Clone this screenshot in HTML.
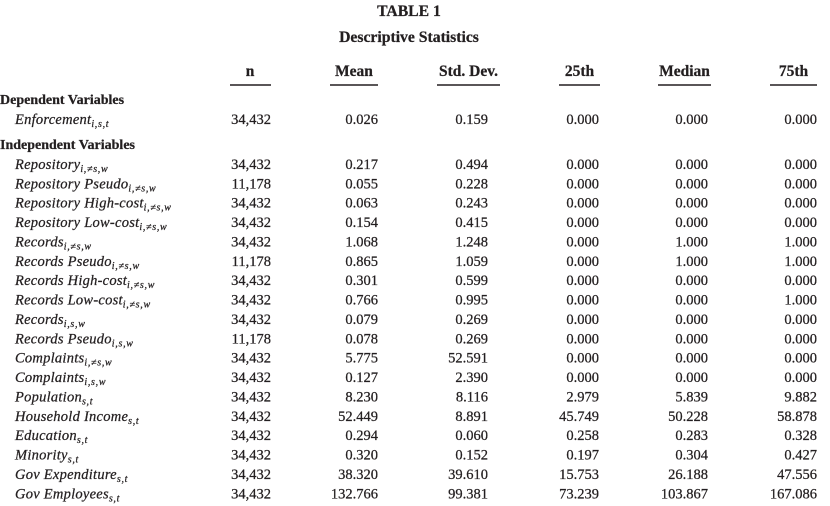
<!DOCTYPE html>
<html>
<head>
<meta charset="utf-8">
<style>
html,body{margin:0;padding:0;background:#fff;}
svg{display:block;}
text{font-family:"Liberation Serif","Times New Roman",serif;fill:#231f20;stroke:#231f20;stroke-width:0.25px;}
.t{font-weight:bold;font-size:15.7px;}
.h{font-weight:bold;font-size:15.5px;}
.s{font-weight:bold;font-size:14px;}
.l{font-style:italic;font-size:14.5px;letter-spacing:0.25px;}
.sb{font-size:10px;font-style:italic;letter-spacing:0.7px;}
.n{font-size:14.5px;text-anchor:end;}
</style>
</head>
<body>
<svg width="830" height="506" viewBox="0 0 830 506" xmlns="http://www.w3.org/2000/svg">
<text class="t" x="409" y="16" text-anchor="middle">TABLE 1</text>
<text class="t" x="409" y="42" text-anchor="middle">Descriptive Statistics</text>

<g class="h">
<text class="h" x="250" y="76" text-anchor="middle">n</text>
<text class="h" x="354" y="76" text-anchor="middle">Mean</text>
<text class="h" x="468.5" y="76" text-anchor="middle">Std. Dev.</text>
<text class="h" x="579.5" y="76" text-anchor="middle">25th</text>
<text class="h" x="684.5" y="76" text-anchor="middle">Median</text>
<text class="h" x="793.5" y="76" text-anchor="middle">75th</text>
</g>
<g stroke="#231f20" stroke-width="1.5">
<line x1="230" y1="85" x2="271" y2="85"/>
<line x1="330" y1="85" x2="378" y2="85"/>
<line x1="437" y1="85" x2="500" y2="85"/>
<line x1="559" y1="85" x2="600" y2="85"/>
<line x1="658" y1="85" x2="711" y2="85"/>
<line x1="770" y1="85" x2="817" y2="85"/>
</g>

<text class="s" x="0" y="104">Dependent Variables</text>
<text class="l" x="15" y="124">Enforcement<tspan class="sb" dy="3">i,s,t</tspan></text>
<g class="n">
<text class="n" x="271" y="124">34,432</text>
<text class="n" x="378" y="124">0.026</text>
<text class="n" x="488" y="124">0.159</text>
<text class="n" x="599" y="124">0.000</text>
<text class="n" x="708" y="124">0.000</text>
<text class="n" x="817" y="124">0.000</text>
</g>
<text class="s" x="0" y="149">Independent Variables</text>

<text class="l" x="15" y="169">Repository<tspan class="sb" dy="3">i,≠s,w</tspan></text>
<text class="l" x="15" y="188.4">Repository Pseudo<tspan class="sb" dy="3">i,≠s,w</tspan></text>
<text class="l" x="15" y="207.7">Repository High-cost<tspan class="sb" dy="3">i,≠s,w</tspan></text>
<text class="l" x="15" y="227.1">Repository Low-cost<tspan class="sb" dy="3">i,≠s,w</tspan></text>
<text class="l" x="15" y="246.5">Records<tspan class="sb" dy="3">i,≠s,w</tspan></text>
<text class="l" x="15" y="265.9">Records Pseudo<tspan class="sb" dy="3">i,≠s,w</tspan></text>
<text class="l" x="15" y="285.2">Records High-cost<tspan class="sb" dy="3">i,≠s,w</tspan></text>
<text class="l" x="15" y="304.6">Records Low-cost<tspan class="sb" dy="3">i,≠s,w</tspan></text>
<text class="l" x="15" y="324">Records<tspan class="sb" dy="3">i,s,w</tspan></text>
<text class="l" x="15" y="343.3">Records Pseudo<tspan class="sb" dy="3">i,s,w</tspan></text>
<text class="l" x="15" y="362.7">Complaints<tspan class="sb" dy="3">i,≠s,w</tspan></text>
<text class="l" x="15" y="382.1">Complaints<tspan class="sb" dy="3">i,s,w</tspan></text>
<text class="l" x="15" y="401.4">Population<tspan class="sb" dy="3">s,t</tspan></text>
<text class="l" x="15" y="420.8">Household Income<tspan class="sb" dy="3">s,t</tspan></text>
<text class="l" x="15" y="440.2">Education<tspan class="sb" dy="3">s,t</tspan></text>
<text class="l" x="15" y="459.6">Minority<tspan class="sb" dy="3">s,t</tspan></text>
<text class="l" x="15" y="478.9">Gov Expenditure<tspan class="sb" dy="3">s,t</tspan></text>
<text class="l" x="15" y="498.3">Gov Employees<tspan class="sb" dy="3">s,t</tspan></text>

<g>
<text class="n" x="271" y="169">34,432</text>
<text class="n" x="271" y="188.4">11,178</text>
<text class="n" x="271" y="207.7">34,432</text>
<text class="n" x="271" y="227.1">34,432</text>
<text class="n" x="271" y="246.5">34,432</text>
<text class="n" x="271" y="265.9">11,178</text>
<text class="n" x="271" y="285.2">34,432</text>
<text class="n" x="271" y="304.6">34,432</text>
<text class="n" x="271" y="324">34,432</text>
<text class="n" x="271" y="343.3">11,178</text>
<text class="n" x="271" y="362.7">34,432</text>
<text class="n" x="271" y="382.1">34,432</text>
<text class="n" x="271" y="401.4">34,432</text>
<text class="n" x="271" y="420.8">34,432</text>
<text class="n" x="271" y="440.2">34,432</text>
<text class="n" x="271" y="459.6">34,432</text>
<text class="n" x="271" y="478.9">34,432</text>
<text class="n" x="271" y="498.3">34,432</text>
</g>
<g>
<text class="n" x="378" y="169">0.217</text>
<text class="n" x="378" y="188.4">0.055</text>
<text class="n" x="378" y="207.7">0.063</text>
<text class="n" x="378" y="227.1">0.154</text>
<text class="n" x="378" y="246.5">1.068</text>
<text class="n" x="378" y="265.9">0.865</text>
<text class="n" x="378" y="285.2">0.301</text>
<text class="n" x="378" y="304.6">0.766</text>
<text class="n" x="378" y="324">0.079</text>
<text class="n" x="378" y="343.3">0.078</text>
<text class="n" x="378" y="362.7">5.775</text>
<text class="n" x="378" y="382.1">0.127</text>
<text class="n" x="378" y="401.4">8.230</text>
<text class="n" x="378" y="420.8">52.449</text>
<text class="n" x="378" y="440.2">0.294</text>
<text class="n" x="378" y="459.6">0.320</text>
<text class="n" x="378" y="478.9">38.320</text>
<text class="n" x="378" y="498.3">132.766</text>
</g>
<g>
<text class="n" x="488" y="169">0.494</text>
<text class="n" x="488" y="188.4">0.228</text>
<text class="n" x="488" y="207.7">0.243</text>
<text class="n" x="488" y="227.1">0.415</text>
<text class="n" x="488" y="246.5">1.248</text>
<text class="n" x="488" y="265.9">1.059</text>
<text class="n" x="488" y="285.2">0.599</text>
<text class="n" x="488" y="304.6">0.995</text>
<text class="n" x="488" y="324">0.269</text>
<text class="n" x="488" y="343.3">0.269</text>
<text class="n" x="488" y="362.7">52.591</text>
<text class="n" x="488" y="382.1">2.390</text>
<text class="n" x="488" y="401.4">8.116</text>
<text class="n" x="488" y="420.8">8.891</text>
<text class="n" x="488" y="440.2">0.060</text>
<text class="n" x="488" y="459.6">0.152</text>
<text class="n" x="488" y="478.9">39.610</text>
<text class="n" x="488" y="498.3">99.381</text>
</g>
<g>
<text class="n" x="599" y="169">0.000</text>
<text class="n" x="599" y="188.4">0.000</text>
<text class="n" x="599" y="207.7">0.000</text>
<text class="n" x="599" y="227.1">0.000</text>
<text class="n" x="599" y="246.5">0.000</text>
<text class="n" x="599" y="265.9">0.000</text>
<text class="n" x="599" y="285.2">0.000</text>
<text class="n" x="599" y="304.6">0.000</text>
<text class="n" x="599" y="324">0.000</text>
<text class="n" x="599" y="343.3">0.000</text>
<text class="n" x="599" y="362.7">0.000</text>
<text class="n" x="599" y="382.1">0.000</text>
<text class="n" x="599" y="401.4">2.979</text>
<text class="n" x="599" y="420.8">45.749</text>
<text class="n" x="599" y="440.2">0.258</text>
<text class="n" x="599" y="459.6">0.197</text>
<text class="n" x="599" y="478.9">15.753</text>
<text class="n" x="599" y="498.3">73.239</text>
</g>
<g>
<text class="n" x="708" y="169">0.000</text>
<text class="n" x="708" y="188.4">0.000</text>
<text class="n" x="708" y="207.7">0.000</text>
<text class="n" x="708" y="227.1">0.000</text>
<text class="n" x="708" y="246.5">1.000</text>
<text class="n" x="708" y="265.9">1.000</text>
<text class="n" x="708" y="285.2">0.000</text>
<text class="n" x="708" y="304.6">0.000</text>
<text class="n" x="708" y="324">0.000</text>
<text class="n" x="708" y="343.3">0.000</text>
<text class="n" x="708" y="362.7">0.000</text>
<text class="n" x="708" y="382.1">0.000</text>
<text class="n" x="708" y="401.4">5.839</text>
<text class="n" x="708" y="420.8">50.228</text>
<text class="n" x="708" y="440.2">0.283</text>
<text class="n" x="708" y="459.6">0.304</text>
<text class="n" x="708" y="478.9">26.188</text>
<text class="n" x="708" y="498.3">103.867</text>
</g>
<g>
<text class="n" x="817" y="169">0.000</text>
<text class="n" x="817" y="188.4">0.000</text>
<text class="n" x="817" y="207.7">0.000</text>
<text class="n" x="817" y="227.1">0.000</text>
<text class="n" x="817" y="246.5">1.000</text>
<text class="n" x="817" y="265.9">1.000</text>
<text class="n" x="817" y="285.2">0.000</text>
<text class="n" x="817" y="304.6">1.000</text>
<text class="n" x="817" y="324">0.000</text>
<text class="n" x="817" y="343.3">0.000</text>
<text class="n" x="817" y="362.7">0.000</text>
<text class="n" x="817" y="382.1">0.000</text>
<text class="n" x="817" y="401.4">9.882</text>
<text class="n" x="817" y="420.8">58.878</text>
<text class="n" x="817" y="440.2">0.328</text>
<text class="n" x="817" y="459.6">0.427</text>
<text class="n" x="817" y="478.9">47.556</text>
<text class="n" x="817" y="498.3">167.086</text>
</g>
</svg>
</body>
</html>
